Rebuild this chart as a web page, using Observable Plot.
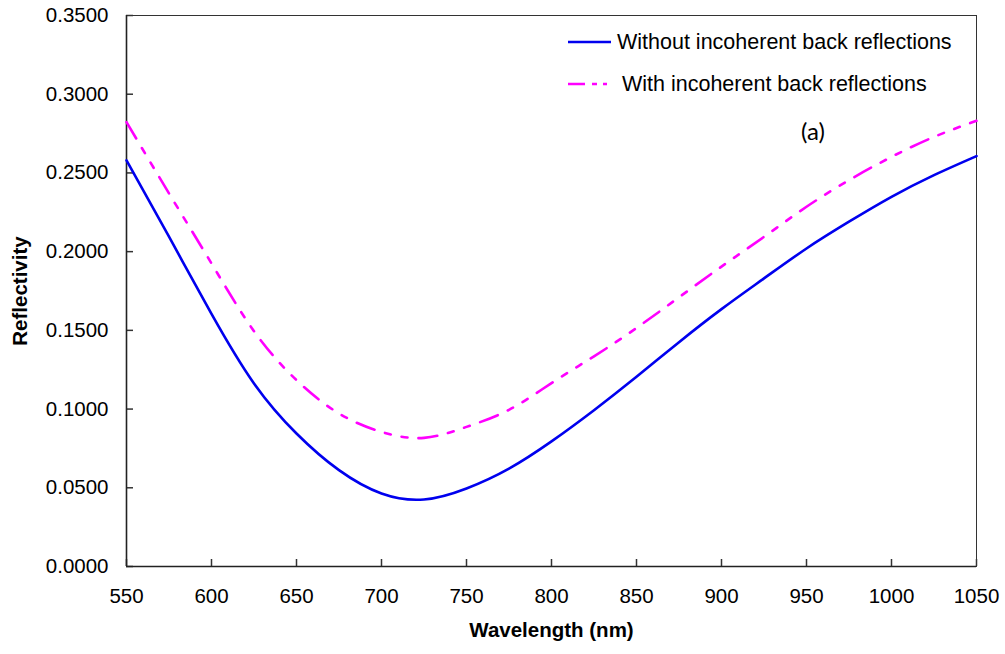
<!DOCTYPE html>
<html>
<head>
<meta charset="utf-8">
<script src="https://cdn.jsdelivr.net/npm/d3@7"></script>
<script src="https://cdn.jsdelivr.net/npm/@observablehq/plot@0.6"></script>
<style>
  body { margin: 0; background: #fff; }
  #wrap { position: relative; width: 1005px; height: 654px; font-family: "Liberation Sans", Arial, sans-serif; }
  #wrap > svg { position: absolute; left: 0; top: 0; }
  #wrap svg [aria-label="x-axis label"] text, #wrap svg [aria-label="y-axis label"] text { font-weight: bold; }
  .leg { position: absolute; display: flex; align-items: center; font-size: 21.5px; color: #000; white-space: nowrap; line-height: 26px; }
  .leg svg { display: block; margin-right: 6px; }
  #panel { position: absolute; left: 801px; top: 116px; font-family: Lato, "Open Sans", sans-serif; font-size: 24px; color: #000; }
</style>
</head>
<body>
<div id="wrap"></div>
<script>
const wavelengths = [550, 575, 600, 625, 650, 675, 700, 725, 750, 775, 800, 825, 850, 875, 900, 925, 950, 975, 1000, 1025, 1050];
const withoutBack = [0.2580, 0.2095, 0.1605, 0.1163, 0.0845, 0.0612, 0.0464, 0.0426, 0.0496, 0.0622, 0.0795, 0.0993, 0.1205, 0.1425, 0.1635, 0.1830, 0.2020, 0.2190, 0.2348, 0.2486, 0.2607];
const withBack = [0.2823, 0.2370, 0.1925, 0.1495, 0.1184, 0.0972, 0.0855, 0.0817, 0.0887, 0.0995, 0.1165, 0.1335, 0.1515, 0.1710, 0.1905, 0.2094, 0.2285, 0.2454, 0.2602, 0.2729, 0.2831];
const xTicks = [550, 600, 650, 700, 750, 800, 850, 900, 950, 1000, 1050];
const yTicks = [0, 0.05, 0.10, 0.15, 0.20, 0.25, 0.30, 0.35];
const seriesNames = ["Without incoherent back reflections", "With incoherent back reflections"];
const seriesColors = ["#0000ee", "#ff00ff"];
const panelLabel = "(a)";

const rowsA = wavelengths.map((w, i) => ({w, r: withoutBack[i]}));
const rowsB = wavelengths.map((w, i) => ({w, r: withBack[i]}));

const fmt = d3.format(".4f");
const W = 1005, H = 654, mL = 126, mR = 29, mT = 15, mB = 88;
const innerW = W - mL - mR, innerH = H - mT - mB, tickLen = 7;

const chart = Plot.plot({
  width: W,
  height: H,
  marginLeft: mL,
  marginRight: mR,
  marginTop: mT,
  marginBottom: mB,
  style: {fontFamily: '"Liberation Sans", Arial, sans-serif', fontSize: "20.5px", color: "#000", background: "#fff"},
  x: {domain: [550, 1050]},
  y: {domain: [0, 0.35]},
  marks: [
    Plot.frame({stroke: "#333", strokeWidth: 1}),
    Plot.axisX({ticks: xTicks, tickSize: 0, tickPadding: 22, tickFormat: d => String(d), label: "Wavelength (nm)", labelAnchor: "center", labelArrow: "none", labelOffset: 70, fontSize: 20.5}),
    Plot.axisY({ticks: yTicks, tickSize: 0, tickPadding: 18, tickFormat: fmt, label: "Reflectivity", labelAnchor: "center", labelArrow: "none", labelOffset: 114, fontSize: 20.5}),
    Plot.tickX(xTicks, {x: d => d, insetTop: innerH - tickLen, stroke: "#333", strokeWidth: 1.5}),
    Plot.tickY(yTicks, {y: d => d, insetRight: innerW - tickLen, stroke: "#333", strokeWidth: 1.5}),
    Plot.ruleY([0], {stroke: "#222", strokeWidth: 1.6}),
    Plot.ruleX([550], {stroke: "#222", strokeWidth: 1.6}),
    Plot.line(rowsB, {x: "w", y: "r", stroke: seriesColors[1], strokeWidth: 2.6, strokeDasharray: "19,11,6,11,6,11", curve: "natural"}),
    Plot.line(rowsA, {x: "w", y: "r", stroke: seriesColors[0], strokeWidth: 2.6, curve: "natural"})
  ]
});

const wrap = document.getElementById("wrap");
wrap.appendChild(chart);

function legendItem(name, color, dash, left, top, gap) {
  const div = document.createElement("div");
  div.className = "leg";
  div.style.left = left + "px";
  div.style.top = top + "px";
  div.innerHTML = `<svg width="43" height="6"><line x1="0" y1="3" x2="${dash ? 39 : 43}" y2="3" stroke="${color}" stroke-width="2.6" ${dash ? `stroke-dasharray="${dash}"` : ""}/></svg><span style="margin-left:${gap}px">${name}</span>`;
  wrap.appendChild(div);
}
legendItem(seriesNames[0], seriesColors[0], null, 568, 29, 0);
legendItem(seriesNames[1], seriesColors[1], "17,7,5,6,5", 568, 71, 5);

const p = document.createElement("div");
p.id = "panel";
p.textContent = panelLabel;
wrap.appendChild(p);
</script>
</body>
</html>
